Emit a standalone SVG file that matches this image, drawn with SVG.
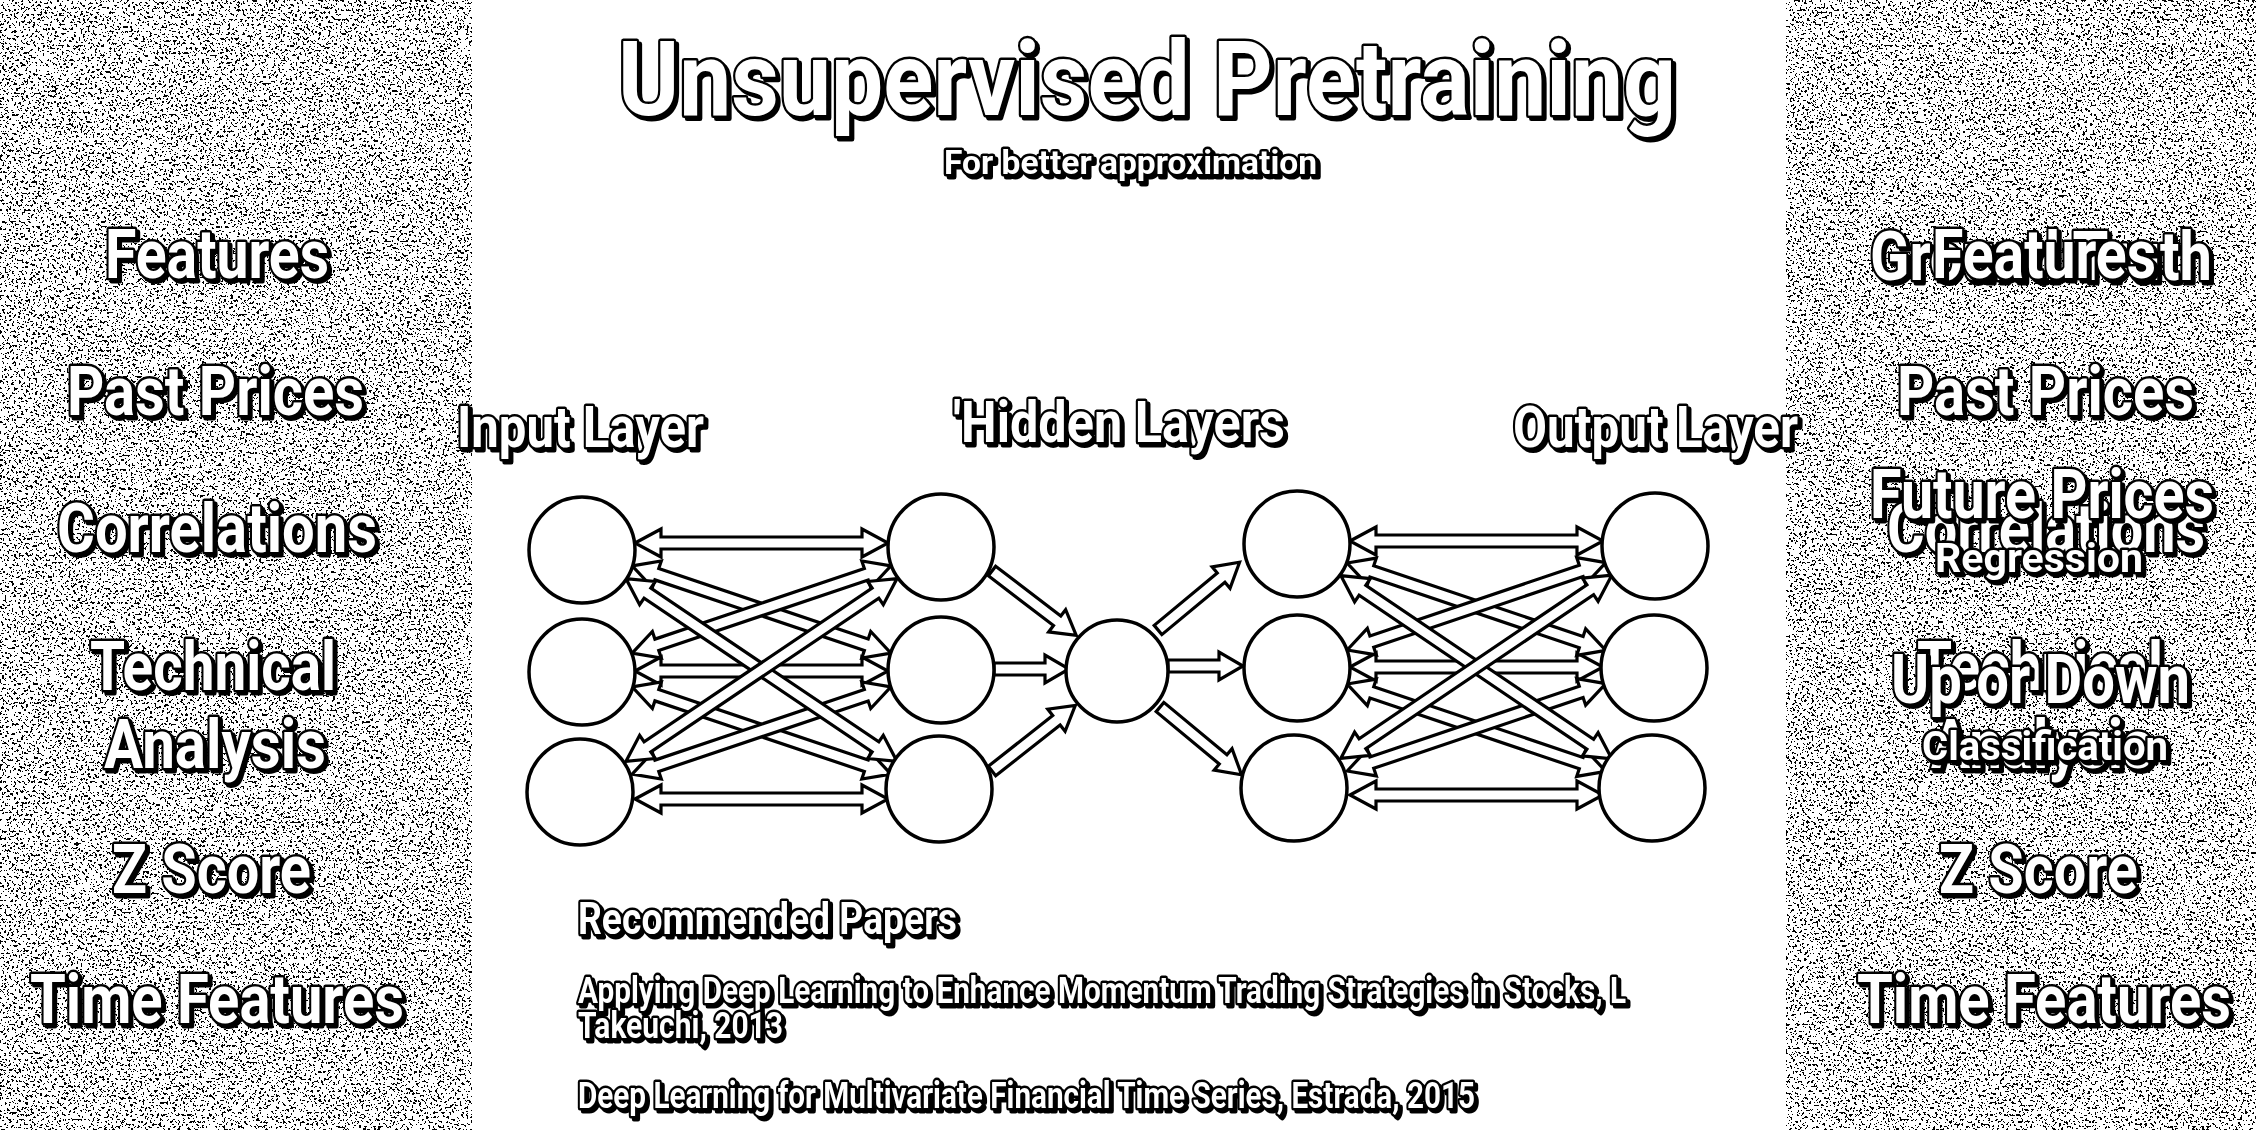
<svg xmlns="http://www.w3.org/2000/svg" xmlns:xlink="http://www.w3.org/1999/xlink" width="2256" height="1130" viewBox="0 0 2256 1130">
<style>
.lbl{font-family:Roboto,"Liberation Sans",sans-serif;font-weight:700;fill:#fff;stroke:#000;stroke-width:5;stroke-linejoin:round;paint-order:stroke;filter:url(#sh)}
.big{font-size:68px}
.mid{font-size:58px}
.sm{font-size:41px}
.ref{font-size:36px}
.node{fill:#fff;stroke:#000;stroke-width:3.5}
.arr{fill:#fff;stroke:#000;stroke-width:3.2;stroke-linejoin:miter}
</style>
<defs>
<filter id="noise" x="0" y="0" width="100%" height="100%" filterUnits="objectBoundingBox" color-interpolation-filters="sRGB">
<feTurbulence type="fractalNoise" baseFrequency="0.42" numOctaves="3" seed="7" result="t"/>
<feColorMatrix in="t" type="matrix" values="0 0 0 0 0  0 0 0 0 0  0 0 0 0 0  1 0 0 0 0"/>
<feComponentTransfer><feFuncA type="discrete" tableValues="1 1 1 1 1 1 1 0 0 0 0 0 0 0 0 0 0 0"/></feComponentTransfer>
</filter>
<filter id="sh" x="-5%" y="-20%" width="110%" height="140%">
<feDropShadow dx="3" dy="3" stdDeviation="0" flood-color="#000" flood-opacity="1"/>
</filter>
<path id="d0" class="arr" d="M0,0 L26,-14 V-6 H227 V-14 L253,0 L227,14 V6 H26 V14 Z"/>
<path id="d1" class="arr" d="M0,0 L26,-14 V-6 H247 V-14 L273,0 L247,14 V6 H26 V14 Z"/>
<path id="d2" class="arr" d="M0,0 L26,-14 V-6 H301 V-14 L327,0 L301,14 V6 H26 V14 Z"/>
<path id="s1" class="arr" d="M0,-6 H51 V-14 L75,0 L51,14 V6 H0 Z"/>
<path id="s2" class="arr" d="M0,-6 H82 V-14 L106,0 L82,14 V6 H0 Z"/>
</defs>
<rect width="2256" height="1130" fill="#fff"/>
<g id="panel-left">
<rect x="0" y="0" width="472" height="1130" fill="#fff"/>
<rect x="0" y="0" width="472" height="1130" fill="#000" filter="url(#noise)"/>
</g>
<g id="panel-right">
<rect x="1786" y="0" width="470" height="1130" fill="#fff"/>
<rect x="1786" y="0" width="470" height="1130" fill="#000" filter="url(#noise)"/>
</g>
<g id="title">
<text class="lbl" x="618" y="115" font-size="104" textLength="1058" lengthAdjust="spacingAndGlyphs">Unsupervised Pretraining</text>
<text class="lbl" x="944" y="174" font-size="34" textLength="373" lengthAdjust="spacingAndGlyphs">For better approximation</text>
</g>
<g id="left-features">
<text class="lbl big" x="105" y="278" textLength="224" lengthAdjust="spacingAndGlyphs">Features</text>
<text class="lbl big" x="67" y="415" textLength="297" lengthAdjust="spacingAndGlyphs">Past Prices</text>
<text class="lbl big" x="57" y="552" textLength="320" lengthAdjust="spacingAndGlyphs">Correlations</text>
<text class="lbl big" x="90" y="690" textLength="246" lengthAdjust="spacingAndGlyphs">Technical</text>
<text class="lbl big" x="104" y="768" textLength="222" lengthAdjust="spacingAndGlyphs">Analysis</text>
<text class="lbl big" x="112" y="893" textLength="199" lengthAdjust="spacingAndGlyphs">Z Score</text>
<text class="lbl big" x="30" y="1023" textLength="374" lengthAdjust="spacingAndGlyphs">Time Features</text>
</g>
<g id="right-targets-back">
<text class="lbl big" x="1870" y="280" textLength="342" lengthAdjust="spacingAndGlyphs">Ground Truth</text>
</g>
<g id="right-features">
<text class="lbl big" x="1932" y="278" textLength="224" lengthAdjust="spacingAndGlyphs">Features</text>
<text class="lbl big" x="1897" y="415" textLength="297" lengthAdjust="spacingAndGlyphs">Past Prices</text>
<text class="lbl big" x="1887" y="552" textLength="318" lengthAdjust="spacingAndGlyphs">Correlations</text>
<text class="lbl big" x="1917" y="690" textLength="246" lengthAdjust="spacingAndGlyphs">Technical</text>
<text class="lbl big" x="1931" y="768" textLength="222" lengthAdjust="spacingAndGlyphs">Analysis</text>
<text class="lbl big" x="1939" y="893" textLength="199" lengthAdjust="spacingAndGlyphs">Z Score</text>
<text class="lbl big" x="1857" y="1023" textLength="374" lengthAdjust="spacingAndGlyphs">Time Features</text>
</g>
<g id="right-targets">
<text class="lbl big" x="1870" y="518" textLength="344" lengthAdjust="spacingAndGlyphs">Future Prices</text>
<text class="lbl sm" x="1935" y="572" textLength="208" lengthAdjust="spacingAndGlyphs">Regression</text>
<text class="lbl big" x="1891" y="703" textLength="299" lengthAdjust="spacingAndGlyphs">Up or Down</text>
<text class="lbl sm" x="1922" y="760" textLength="246" lengthAdjust="spacingAndGlyphs">Classification</text>
</g>
<g id="layer-labels">
<text class="lbl mid" x="457" y="447" textLength="247" lengthAdjust="spacingAndGlyphs">Input Layer</text>
<text class="lbl mid" x="953" y="442" textLength="332" lengthAdjust="spacingAndGlyphs">'Hidden Layers</text>
<text class="lbl mid" x="1513" y="447" textLength="285" lengthAdjust="spacingAndGlyphs">Output Layer</text>
</g>
<g id="connectors">
<use href="#d0" transform="translate(635,543)"/>
<use href="#d0" transform="translate(635,671)"/>
<use href="#d0" transform="translate(635,799)"/>
<use href="#d1" transform="translate(632.2,565.9) rotate(18.62)"/>
<use href="#d1" transform="translate(632.2,686.9) rotate(18.62)"/>
<use href="#d1" transform="translate(632.2,653.1) rotate(-18.62)"/>
<use href="#d1" transform="translate(632.2,774.1) rotate(-18.62)"/>
<use href="#d2" transform="translate(625.9,578.6) rotate(33.99)"/>
<use href="#d2" transform="translate(625.9,761.4) rotate(-33.99)"/>
<use href="#s2" transform="translate(992,571) rotate(37.4)"/>
<use href="#s1" transform="translate(994,669)"/>
<use href="#s2" transform="translate(992,771) rotate(-38.2)"/>
<use href="#s2" transform="translate(1158,630) rotate(-39.7)"/>
<use href="#s1" transform="translate(1168,666)"/>
<use href="#s2" transform="translate(1160,707) rotate(39.7)"/>
<use href="#d0" transform="translate(1350,541)"/>
<use href="#d0" transform="translate(1350,667)"/>
<use href="#d0" transform="translate(1350,795)"/>
<use href="#d1" transform="translate(1347.2,563) rotate(18.68)"/>
<use href="#d1" transform="translate(1347.2,684) rotate(18.68)"/>
<use href="#d1" transform="translate(1347.2,650) rotate(-18.68)"/>
<use href="#d1" transform="translate(1347.2,771) rotate(-18.68)"/>
<use href="#d2" transform="translate(1340.9,575.7) rotate(34.06)"/>
<use href="#d2" transform="translate(1340.9,758.3) rotate(-34.06)"/>
</g>
<g id="in1"><circle class="node" cx="582" cy="550" r="53"/></g>
<g id="in2"><circle class="node" cx="582" cy="672" r="53"/></g>
<g id="in3"><circle class="node" cx="580" cy="792" r="53"/></g>
<g id="h1a"><circle class="node" cx="941" cy="547" r="53"/></g>
<g id="h1b"><circle class="node" cx="941" cy="670" r="53"/></g>
<g id="h1c"><circle class="node" cx="939" cy="789" r="53"/></g>
<g id="hmid"><circle class="node" cx="1117" cy="671" r="51"/></g>
<g id="h2a"><circle class="node" cx="1297" cy="544" r="53"/></g>
<g id="h2b"><circle class="node" cx="1297" cy="668" r="53"/></g>
<g id="h2c"><circle class="node" cx="1294" cy="788" r="53"/></g>
<g id="out1"><circle class="node" cx="1655" cy="546" r="53"/></g>
<g id="out2"><circle class="node" cx="1654" cy="668" r="53"/></g>
<g id="out3"><circle class="node" cx="1652" cy="788" r="53"/></g>
<g id="papers">
<text class="lbl" x="578" y="934" font-size="44" textLength="379" lengthAdjust="spacingAndGlyphs">Recommended Papers</text>
<text class="lbl ref" x="578" y="1003" textLength="1048" lengthAdjust="spacingAndGlyphs">Applying Deep Learning to Enhance Momentum Trading Strategies in Stocks, L</text>
<text class="lbl ref" x="578" y="1038" textLength="205" lengthAdjust="spacingAndGlyphs">Takeuchi, 2013</text>
<text class="lbl ref" x="578" y="1108" textLength="897" lengthAdjust="spacingAndGlyphs">Deep Learning for Multivariate Financial Time Series, Estrada, 2015</text>
</g>
</svg>
